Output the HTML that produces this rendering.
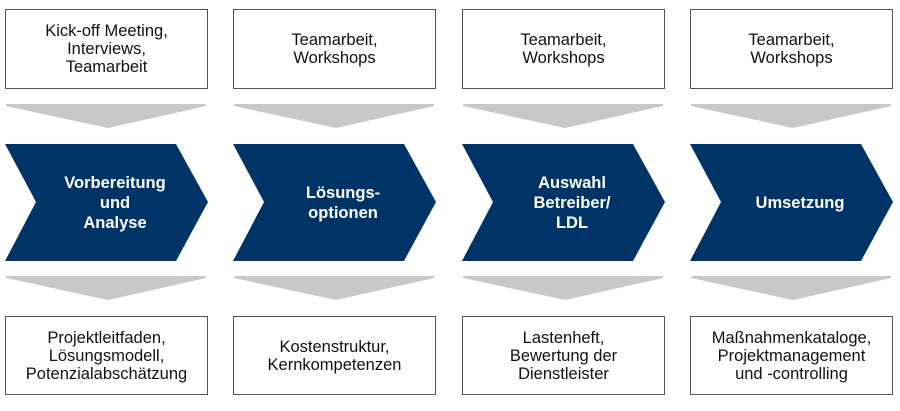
<!DOCTYPE html>
<html><head><style>
body{margin:0;width:900px;height:411px;background:#fff;overflow:hidden;font-family:"Liberation Sans",Arial,sans-serif;}
.box{position:absolute;width:201px;border:1px solid #555;background:#fff;display:flex;align-items:center;justify-content:center;text-align:center;font-size:16.5px;line-height:18px;color:#111;}
.t{top:9px;height:78px}
.b{top:316px;height:77px}
.lbl{position:absolute;color:#fff;font-weight:bold;font-size:16.5px;line-height:20px;text-align:center;width:140px;display:flex;align-items:center;justify-content:center;height:117px;top:144px}
</style></head><body>
<svg width="900" height="411" style="position:absolute;left:0;top:0">
<g id="c">
<polygon points="6,104 206,104 206,106 108,128 6,106" fill="#c8c8c8"/>
<polygon points="5,144 176,144 208,202 176,261 5,261 36,202" fill="#003366"/>
<polygon points="6,276 206,276 206,278 108,300 6,278" fill="#c8c8c8"/>
</g>
<use href="#c" x="228"/>
<use href="#c" x="457"/>
<use href="#c" x="685"/>
</svg>
<div class="box t" style="left:5px">Kick-off Meeting,<br>Interviews,<br>Teamarbeit</div>
<div class="box t" style="left:233px">Teamarbeit,<br>Workshops</div>
<div class="box t" style="left:462px">Teamarbeit,<br>Workshops</div>
<div class="box t" style="left:690px">Teamarbeit,<br>Workshops</div>
<div class="lbl" style="left:45px">Vorbereitung<br>und<br>Analyse</div>
<div class="lbl" style="left:273px">Lösungs-<br>optionen</div>
<div class="lbl" style="left:502px">Auswahl<br>Betreiber/<br>LDL</div>
<div class="lbl" style="left:730px">Umsetzung</div>
<div class="box b" style="left:5px">Projektleitfaden,<br>Lösungsmodell,<br>Potenzialabschätzung</div>
<div class="box b" style="left:233px">Kostenstruktur,<br>Kernkompetenzen</div>
<div class="box b" style="left:462px">Lastenheft,<br>Bewertung der<br>Dienstleister</div>
<div class="box b" style="left:690px">Maßnahmenkataloge,<br>Projektmanagement<br>und -controlling</div>
</body></html>
